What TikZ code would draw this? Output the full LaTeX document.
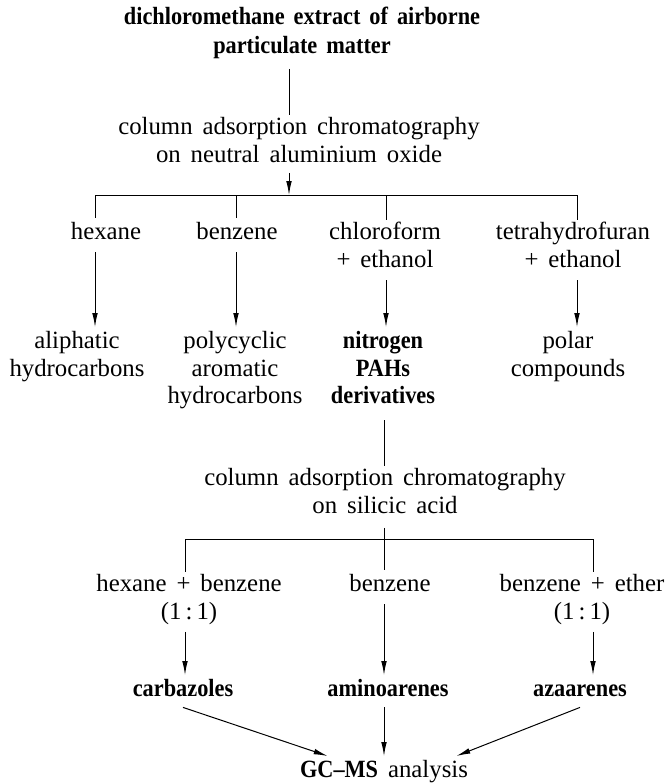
\documentclass[tikz,border=0pt]{standalone}
\usepackage{fontspec}
\setmainfont{Liberation Serif}[WordSpace=1.6]
\newfontface\bfcond{Liberation Serif Bold}[FakeStretch=0.9,WordSpace=1.6,Ligatures=TeX]
\usepackage{tikz}
\usetikzlibrary{arrows.meta,calc}

\begin{document}
\begin{tikzpicture}[x=0.5pt,y=-0.5pt,
    txt/.style={anchor=north,align=center,inner sep=1pt,
        font=\fontsize{12.4}{13.8}\selectfont,execute at begin node=\strut},
    res/.style={txt,font=\fontsize{12.4}{13.8}\selectfont\bfcond},
    link/.style={line width=0.5pt},
    flow/.style={line width=0.5pt,-{Latex[length=7pt,width=2.8pt]}}]
    \useasboundingbox (0,0) rectangle (667,783);

    % Source and first separation
    \node[txt,font=\fontsize{12.4}{14.5}\selectfont\bfcond] (extract) at (302,5)
        {dichloromethane extract of airborne\\particulate matter};
    \node[txt] (alumina) at (299,115)
        {column adsorption chromatography\\on neutral aluminium oxide};
    \coordinate (split1) at (289,195);
    \coordinate (br1a) at (95,195);
    \coordinate (br1b) at (236,195);
    \coordinate (br1c) at (386,195);
    \coordinate (br1d) at (577,195);

    % Eluents, first column
    \node[txt] (hexane) at (106,218) {hexane};
    \node[txt] (benzene) at (237,218) {benzene};
    \node[txt] (chloro) at (385,220) {chloroform\\+ ethanol};
    \node[txt] (thf) at (573,220) {tetrahydrofuran\\+ ethanol};

    % Fractions
    \node[txt] (aliph) at (77,329) {aliphatic\\hydrocarbons};
    \node[txt] (pah) at (235,329) {polycyclic\\aromatic\\hydrocarbons};
    \node[res] (nitro) at (383,329) {nitrogen\\PAHs\\derivatives};
    \node[txt] (polar) at (568,329) {polar\\compounds};

    % Second separation
    \node[txt] (silica) at (385,466)
        {column adsorption chromatography\\on silicic acid};
    \coordinate (split2) at (384,539);
    \coordinate (br2a) at (185,539);
    \coordinate (br2c) at (593,539);

    % Eluents, second column
    \node[txt] (hexben) at (189,572) {hexane + benzene\\(1\,:\,1)};
    \node[txt] (benz2) at (390,570) {benzene};
    \node[txt] (benzeth) at (582,572) {benzene + ether\\(1\,:\,1)};

    % Final fractions
    \node[res] (carb) at (183,675) {carbazoles};
    \node[res] (amino) at (388,675) {aminoarenes};
    \node[res] (aza) at (580,675) {azaarenes};
    \node[txt] (gcms) at (384,756) {{\bfcond GC--MS} analysis};

    % Connectors, top part
    \draw[link,shorten <=2pt] (extract.south -| split1) -- (alumina.north -| split1);
    \draw[flow] (alumina.south -| split1) -- (split1);
    \draw[link] (br1a) -- (br1d);
    \foreach \b/\n in {br1a/hexane,br1b/benzene,br1c/chloro,br1d/thf}
        \draw[link] (\b) -- (\b |- \n.north);
    \foreach \b/\n/\r in {br1a/hexane/aliph,br1b/benzene/pah,br1c/chloro/nitro,br1d/thf/polar}
        \draw[flow,shorten <=1pt,shorten >=1pt] (\b |- \n.south) -- (\b |- \r.north);

    % Connectors, bottom part
    \draw[link,shorten <=3pt] (nitro.south -| split2) -- (silica.north -| split2);
    \draw[link,shorten <=2pt] (silica.south -| split2) -- (split2 |- benz2.north);
    \draw[link] (br2a) -- (br2c);
    \foreach \b/\n in {br2a/hexben,br2c/benzeth}
        \draw[link] (\b) -- (\b |- \n.north);
    \foreach \b/\n/\r in {br2a/hexben/carb,split2/benz2/amino,br2c/benzeth/aza}
        \draw[flow,shorten <=1pt] (\b |- \n.south) -- (\b |- \r.north);

    % Into GC-MS
    \draw[flow] (carb.south) -- ([xshift=15pt]gcms.north west);
    \draw[flow] (amino.south -| split2) -- (gcms.north -| split2);
    \draw[flow] (aza.south) -- ([xshift=-7pt]gcms.north east);
\end{tikzpicture}
\end{document}
